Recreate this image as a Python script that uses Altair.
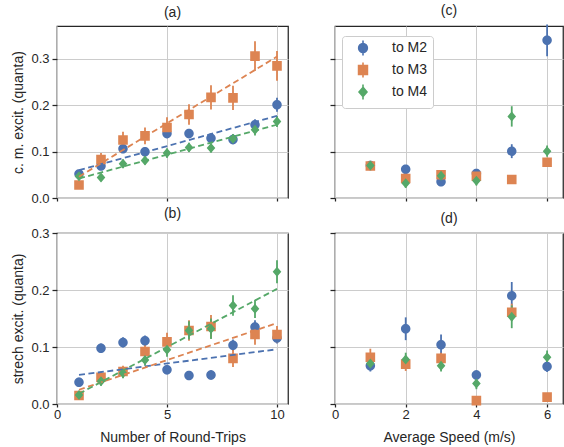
import altair as alt
import pandas as pd

# ---------------------------------------------------------------- data
trips = [1, 2, 3, 4, 5, 6, 7, 8, 9, 10]
speeds = [1, 2, 3, 4, 5, 6]

series_names = ["to M2", "to M3", "to M4"]
series_colors = ["#4c72b0", "#dd8452", "#55a868"]

# (a) centre-of-mass excitation vs. number of round trips
cm_trips_m2 = [0.052, 0.069, 0.106, 0.100, 0.139, 0.139, 0.129, 0.126, 0.158, 0.201]
cm_trips_m2_err = [0.008, 0.008, 0.008, 0.009, 0.010, 0.010, 0.010, 0.010, 0.012, 0.015]
cm_trips_m3 = [0.028, 0.083, 0.125, 0.134, 0.152, 0.180, 0.217, 0.216, 0.306, 0.285]
cm_trips_m3_err = [0.008, 0.014, 0.018, 0.018, 0.022, 0.022, 0.026, 0.026, 0.032, 0.032]
cm_trips_m4 = [0.047, 0.044, 0.074, 0.081, 0.097, 0.109, 0.108, 0.128, 0.147, 0.165]
cm_trips_m4_err = [0.008, 0.008, 0.009, 0.009, 0.010, 0.010, 0.010, 0.010, 0.012, 0.012]

# (b) stretch excitation vs. number of round trips
st_trips_m2 = [0.038, 0.098, 0.108, 0.111, 0.060, 0.050, 0.051, 0.103, 0.135, 0.116]
st_trips_m2_err = [0.008, 0.008, 0.009, 0.009, 0.008, 0.008, 0.008, 0.010, 0.012, 0.010]
st_trips_m3 = [0.015, 0.047, 0.057, 0.092, 0.109, 0.129, 0.136, 0.080, 0.122, 0.122]
st_trips_m3_err = [0.006, 0.010, 0.010, 0.013, 0.016, 0.018, 0.020, 0.015, 0.018, 0.015]
st_trips_m4 = [0.016, 0.040, 0.054, 0.077, 0.095, 0.129, 0.132, 0.173, 0.167, 0.232]
st_trips_m4_err = [0.006, 0.008, 0.009, 0.010, 0.012, 0.016, 0.018, 0.018, 0.016, 0.020]

# linear fits, evaluated at the first and last round trip
fit_trips = [1, 10]
cm_fit_m2 = [0.060, 0.177]
cm_fit_m3 = [0.046, 0.305]
cm_fit_m4 = [0.042, 0.158]
st_fit_m2 = [0.051, 0.096]
st_fit_m3 = [0.025, 0.142]
st_fit_m4 = [0.018, 0.202]

# (c) centre-of-mass excitation vs. average speed
cm_speed_m2 = [0.070, 0.062, 0.035, 0.053, 0.101, 0.340]
cm_speed_m2_err = [0.008, 0.008, 0.008, 0.008, 0.015, 0.034]
cm_speed_m3 = [0.069, 0.042, 0.050, 0.047, 0.040, 0.077]
cm_speed_m3_err = [0.006, 0.008, 0.008, 0.008, 0.005, 0.010]
cm_speed_m4 = [0.070, 0.032, 0.048, 0.037, 0.176, 0.101]
cm_speed_m4_err = [0.010, 0.010, 0.010, 0.010, 0.022, 0.012]

# (d) stretch excitation vs. average speed
st_speed_m2 = [0.067, 0.132, 0.104, 0.051, 0.190, 0.066]
st_speed_m2_err = [0.010, 0.020, 0.018, 0.008, 0.024, 0.010]
st_speed_m3 = [0.082, 0.070, 0.080, 0.006, 0.161, 0.012]
st_speed_m3_err = [0.015, 0.012, 0.010, 0.004, 0.015, 0.004]
st_speed_m4 = [0.071, 0.078, 0.067, 0.036, 0.153, 0.082]
st_speed_m4_err = [0.010, 0.012, 0.010, 0.010, 0.020, 0.012]

# ---------------------------------------------------------------- tables
def measurements(x, values, errors):
    rows = []
    for name, ys, es in zip(series_names, values, errors):
        for xi, yi, ei in zip(x, ys, es):
            rows.append({"x": xi, "y": yi, "lo": yi - ei, "hi": yi + ei, "series": name})
    return pd.DataFrame(rows)


def fit_lines(x, values):
    rows = []
    for name, ys in zip(series_names, values):
        for xi, yi in zip(x, ys):
            rows.append({"x": xi, "y": yi, "series": name})
    return pd.DataFrame(rows)


cm_trips = measurements(trips, [cm_trips_m2, cm_trips_m3, cm_trips_m4],
                        [cm_trips_m2_err, cm_trips_m3_err, cm_trips_m4_err])
st_trips = measurements(trips, [st_trips_m2, st_trips_m3, st_trips_m4],
                        [st_trips_m2_err, st_trips_m3_err, st_trips_m4_err])
cm_speed = measurements(speeds, [cm_speed_m2, cm_speed_m3, cm_speed_m4],
                        [cm_speed_m2_err, cm_speed_m3_err, cm_speed_m4_err])
st_speed = measurements(speeds, [st_speed_m2, st_speed_m3, st_speed_m4],
                        [st_speed_m2_err, st_speed_m3_err, st_speed_m4_err])
cm_fits = fit_lines(fit_trips, [cm_fit_m2, cm_fit_m3, cm_fit_m4])
st_fits = fit_lines(fit_trips, [st_fit_m2, st_fit_m3, st_fit_m4])

# ---------------------------------------------------------------- styling
INK = "#262626"
FONT = "Liberation Sans"

# circle, square and thin diamond in the unit box; the trailing vertical
# stroke is only visible where the symbol is stroked (legend entries)
marker_paths = [
    "M0.95,0A0.95,0.95,0,1,1,-0.95,0A0.95,0.95,0,1,1,0.95,0Z M0,-1.6L0,1.6",
    "M-0.96,-0.96L0.96,-0.96L0.96,0.96L-0.96,0.96Z M0,-1.6L0,1.6",
    "M0,-1L0.86,0L0,1L-0.86,0Z M0,-1.6L0,1.6",
]

color_scale = alt.Scale(domain=series_names, range=series_colors)
shape_scale = alt.Scale(domain=series_names, range=marker_paths)

legend = alt.Legend(
    title=None, orient="none", legendX=285, legendY=10,
    strokeColor="#cccccc", fillColor="white", cornerRadius=3,
    padding=5, rowPadding=0, symbolSize=85, symbolStrokeWidth=1.6,
    labelFontSize=14, labelFont=FONT, labelColor=INK, labelOffset=22,
    symbolOffset=9,
)


def panel(points, fits, title, x_dom, x_vals, y_dom, y_vals, width, height,
          show_xlabels, show_ylabels, x_title, y_title):
    x = alt.X("x:Q", title=x_title,
              scale=alt.Scale(domain=x_dom, nice=False, zero=False),
              axis=alt.Axis(values=x_vals, labels=show_xlabels, format="d", labelFlush=False))
    y = alt.Y("y:Q", title=y_title,
              scale=alt.Scale(domain=y_dom, nice=False, zero=False),
              axis=alt.Axis(values=y_vals, labels=show_ylabels, format=".1f"))

    layers = []
    # error bars, one layer per series
    for name, col in zip(series_names, series_colors):
        layers.append(
            alt.Chart(points).transform_filter(alt.datum.series == name)
            .mark_rule(strokeWidth=1.8, color=col)
            .encode(x=x,
                    y=alt.Y("lo:Q", scale=alt.Scale(domain=y_dom, nice=False, zero=False)),
                    y2="hi:Q")
        )
    # markers; these carry the legend
    layers.append(
        alt.Chart(points).mark_point(filled=True, size=100, opacity=1, strokeWidth=0).encode(
            x=x, y=y,
            color=alt.Color("series:N", scale=color_scale, legend=legend),
            stroke=alt.Stroke("series:N", scale=color_scale, legend=legend),
            shape=alt.Shape("series:N", scale=shape_scale, legend=legend),
        )
    )
    # dashed linear fits
    if fits is not None:
        for name, col in zip(series_names, series_colors):
            layers.append(
                alt.Chart(fits).transform_filter(alt.datum.series == name)
                .mark_line(strokeDash=[6, 3.5], strokeWidth=1.8, color=col)
                .encode(x=x, y=y)
            )
    return alt.layer(*layers).properties(
        width=width, height=height,
        title=alt.TitleParams(title, fontSize=14, font=FONT, color=INK,
                              fontWeight="normal", offset=6),
    )


LW, RW = 231, 228
TH, BH = 172, 171

pa = panel(cm_trips, cm_fits, "(a)", [0, 10.5], [0, 5, 10], [0, 0.371], [0, 0.1, 0.2, 0.3],
           LW, TH, False, True, None, "c. m. excit. (quanta)")
pb = panel(st_trips, st_fits, "(b)", [0, 10.5], [0, 5, 10], [0, 0.3], [0, 0.1, 0.2, 0.3],
           LW, BH, True, True, "Number of Round-Trips", "strech excit. (quanta)")
pc = panel(cm_speed, None, "(c)", [0, 6.45], [0, 2, 4, 6], [0, 0.371], [0, 0.1, 0.2, 0.3],
           RW, TH, False, False, None, None)
pd_ = panel(st_speed, None, "(d)", [0, 6.45], [0, 2, 4, 6], [0, 0.3], [0, 0.1, 0.2, 0.3],
            RW, BH, True, False, "Average Speed (m/s)", None)

chart = alt.vconcat(
    alt.hconcat(pa, pc, spacing=39),
    alt.hconcat(pb, pd_, spacing=39),
    spacing=0,
).properties(
    padding={"left": 11, "top": 3, "right": 0, "bottom": 0},
).configure_view(
    stroke=INK, strokeWidth=1.25,
).configure_axis(
    domain=False, grid=True, gridColor="#cccccc", gridWidth=1,
    tickColor=INK, tickSize=5, tickWidth=1.25,
    labelFont=FONT, labelFontSize=13, labelColor=INK, labelPadding=3,
    titleFont=FONT, titleFontSize=14, titleColor=INK, titleFontWeight="normal",
    titlePadding=5,
).configure_axisX(
    tickSize=3, labelPadding=1, titlePadding=9,
)

chart.save("out.html", embed_options={"renderer": "svg", "actions": False})
